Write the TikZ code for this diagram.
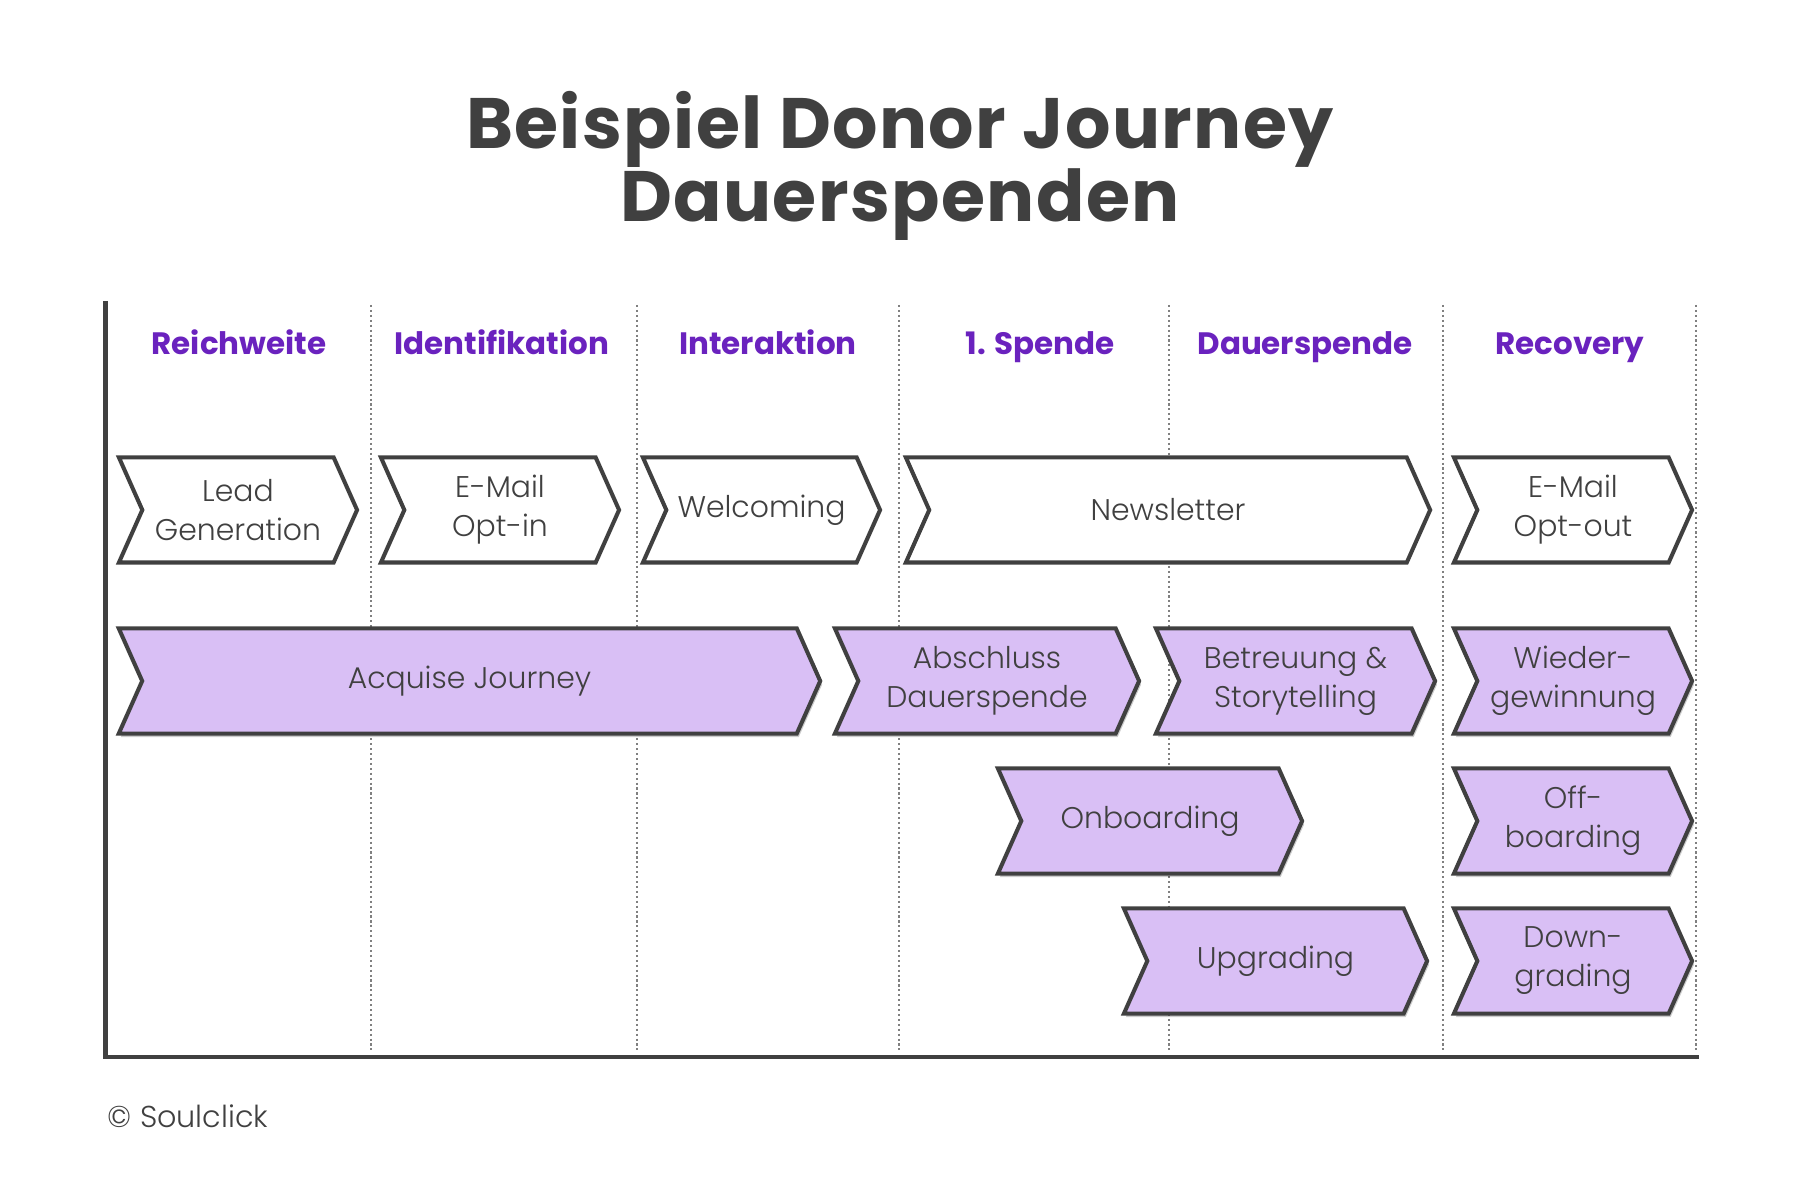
\documentclass[tikz,border=0pt]{standalone}
\usepackage{fontspec}
\setmainfont{Poppins}[UprightFont=* Light, BoldFont=* Bold]
\usetikzlibrary{shapes.symbols,shadows}
\definecolor{txtgray}{HTML}{404040}
\definecolor{lila}{HTML}{6A22BE}
\definecolor{lilafill}{HTML}{D9BFF5}
\tikzset{
  chev/.style={signal, signal to=east, signal from=west, signal pointer angle=132,
    draw=txtgray, line width=1.15pt, inner sep=0pt, minimum height=1.05cm,
    align=center, text=txtgray, font=\fontsize{8.5}{11.1}\selectfont},
  chevw/.style={chev, fill=white},
  chevp/.style={chev, fill=lilafill,
    drop shadow={shadow xshift=0.02cm, shadow yshift=-0.035cm, fill=black, opacity=0.2}},
  phasehead/.style={anchor=base, text=lila, font=\fontsize{8.8}{10}\selectfont\bfseries},
  titletext/.style={anchor=base, text=txtgray, font=\fontsize{20.3}{21}\selectfont\bfseries\addfontfeatures{LetterSpace=2}},
  trenner/.style={gray, line width=0.5pt, dash pattern=on 0.6pt off 0.8pt},
}

\begin{document}
\begin{tikzpicture}[x=0.01cm,y=-0.01cm]
\useasboundingbox (0,0) rectangle (1800,1177);

%title
\node[titletext] (title1) at (900,149) {Beispiel Donor Journey};
\node[titletext] (title2) at (900,222) {Dauerspenden};

%phase separators
\foreach \xs in {371,637,899,1169,1443,1696}
  \draw[trenner] (\xs,305)--(\xs,1050);

%axes
\coordinate (top) at (105.6,301);
\coordinate (origin) at (105.6,1057);
\coordinate (end) at (1699,1057);
\draw[txtgray, line width=1.2pt] (top)--(origin)--(end);

%phases
\node[phasehead] (reichweite) at (239,355) {Reichweite};
\node[phasehead] (identifikation) at (502,355) {Identifikation};
\node[phasehead] (interaktion) at (768,355) {Interaktion};
\node[phasehead] (spende) at (1040,355) {1. Spende};
\node[phasehead] (dauerspende) at (1305,355) {Dauerspende};
\node[phasehead] (recovery) at (1570,355) {Recovery};

%touchpoints
\node[chevw, minimum width=2.38cm] (lead) at (238,510) {Lead\\Generation};
\node[chevw, minimum width=2.38cm] (optin) at (500,510) {E-Mail\\Opt-in};
\node[chevw, minimum width=2.37cm] (welcoming) at (761.5,510) {Welcoming};
\node[chevw, minimum width=5.24cm] (newsletter) at (1168,510) {Newsletter};
\node[chevw, minimum width=2.38cm] (optout) at (1573,510) {E-Mail\\Opt-out};

%journeys
\node[chevp, minimum width=7.01cm] (acquise) at (469.5,681) {Acquise Journey};
\node[chevp, minimum width=3.04cm] (abschluss) at (987,681) {Abschluss\\Dauerspende};
\node[chevp, minimum width=2.79cm] (betreuung) at (1295.5,681) {Betreuung \&\\Storytelling};
\node[chevp, minimum width=2.38cm] (wieder) at (1573,681) {Wieder-\\gewinnung};
\node[chevp, minimum width=3.04cm] (onboarding) at (1150,821) {Onboarding};
\node[chevp, minimum width=2.38cm] (offboarding) at (1573,821) {Off-\\boarding};
\node[chevp, minimum width=3.03cm] (upgrading) at (1275.5,961) {Upgrading};
\node[chevp, minimum width=2.38cm] (downgrading) at (1573,961) {Down-\\grading};

%copyright
\node[anchor=base west, text=txtgray, inner sep=0pt, font=\fontsize{8.6}{10}\selectfont] (copy) at (107,1128) {© Soulclick};
\end{tikzpicture}
\end{document}
